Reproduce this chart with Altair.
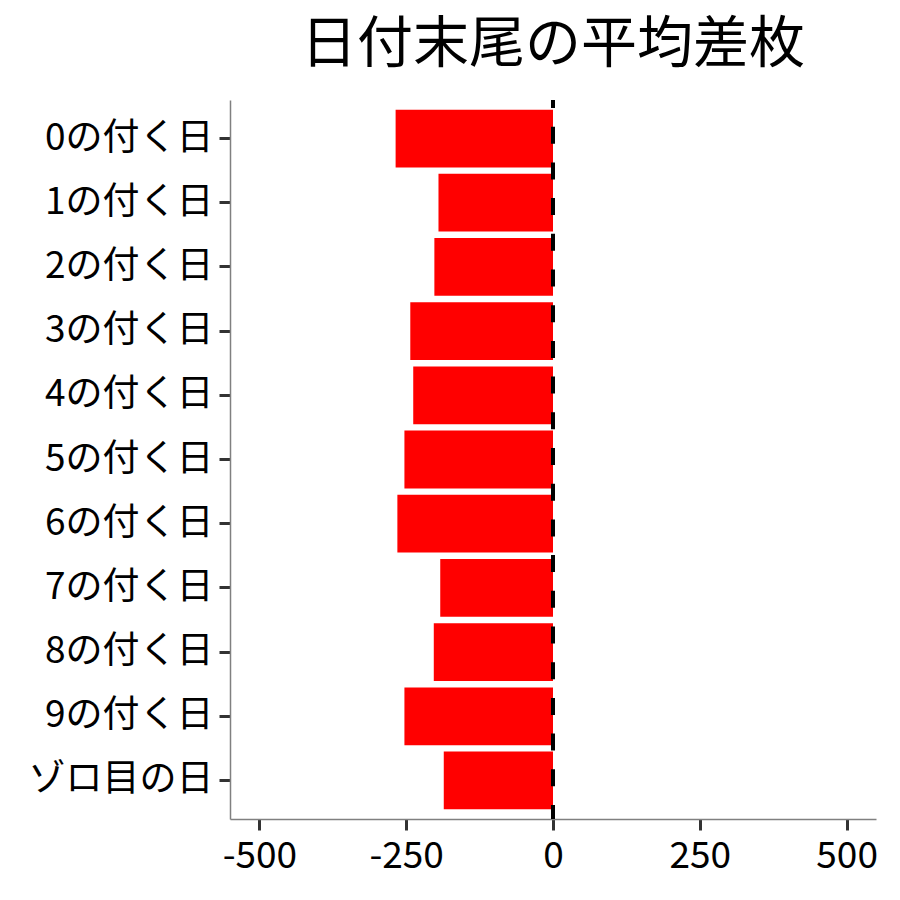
import altair as alt
import pandas as pd

categories = ["0の付く日", "1の付く日", "2の付く日", "3の付く日", "4の付く日",
              "5の付く日", "6の付く日", "7の付く日", "8の付く日", "9の付く日", "ゾロ目の日"]
values = [-268, -195, -202, -243, -238, -253, -265, -192, -203, -253, -186]
x_ticks = [-500, -250, 0, 250, 500]
ref_x = [0]

FONT = "Noto Sans CJK JP"

df = pd.DataFrame({"cat": categories, "val": values})
ref = pd.DataFrame({"x": ref_x})

x_scale = alt.Scale(domain=[-550, 550], nice=False, zero=False)

bars = alt.Chart(df).mark_bar(color="#ff0000").encode(
    x=alt.X("val:Q", scale=x_scale,
            axis=alt.Axis(values=x_ticks, title=None, grid=False,
                          labelExpr="datum.value < 0 ? '-' + abs(datum.value) : '' + datum.value",
                          labelFontSize=37, labelFont=FONT, labelColor="black",
                          labelPadding=8, tickSize=11, tickWidth=3, tickColor="#333333",
                          domainColor="#808080", domainWidth=1.5)),
    y=alt.Y("cat:N", sort=categories,
            scale=alt.Scale(paddingInner=0.1, paddingOuter=0.15),
            axis=alt.Axis(title=None, grid=False, labelLimit=400,
                          labelFontSize=37, labelFont=FONT, labelColor="black",
                          labelPadding=6, tickSize=11, tickWidth=3, tickColor="#333333",
                          domainColor="#808080", domainWidth=1.5)),
)

rule = alt.Chart(ref).mark_rule(color="black", strokeWidth=4,
                                strokeDash=[17, 18.7], strokeDashOffset=9).encode(
    x=alt.X("x:Q", scale=x_scale)
)

chart = (bars + rule).properties(
    width=646, height=719,
    padding={"left": 222, "top": 92, "right": 16, "bottom": 73},
    autosize="none",
    title=alt.TitleParams("日付末尾の平均差枚", font=FONT, fontSize=56, fontWeight="normal",
                          color="black", anchor="middle", frame="group", offset=24),
).configure(background="white").configure_view(stroke=None)

chart.save("out.html", embed_options={"renderer": "svg", "actions": False})
